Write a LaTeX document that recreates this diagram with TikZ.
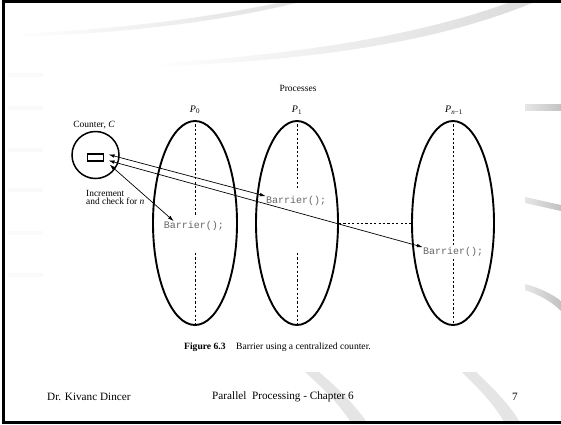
\documentclass[tikz,border=0pt]{standalone}
\usepackage{fontspec}
\setmainfont{Liberation Serif}
\setmonofont{Liberation Mono}
\usetikzlibrary{shapes.geometric,arrows.meta}
\newcommand{\procname}[1]{\textit{P}\textsubscript{#1}}
\begin{document}
\begin{tikzpicture}[x=1pt,y=-1pt,
  proc/.style={ellipse,draw,line width=1.9pt,minimum width=#1,minimum height=204pt,inner sep=0pt},
  guide/.style={line width=0.9pt,dash pattern=on 2.2pt off 2.2pt},
  call/.style={text=black!60,font=\ttfamily\fontsize{10}{12}\selectfont,inner sep=0pt},
  link/.style={line width=0.7pt,{Latex[length=6pt,width=3.6pt]}-{Latex[length=6pt,width=3.6pt]}},
  lbl/.style={font=\fontsize{9.5}{9.5}\selectfont,inner sep=0pt},
  foot/.style={font=\fontsize{11.2}{12}\selectfont,inner sep=0pt},
  swoosh/.style={draw=none},
  faint/.style={fill=black!2,draw=none}]
\useasboundingbox (0,0) rectangle (561,424);
\fill[white] (0,0) rectangle (561,424);

% slide background decoration
\shade[swoosh,left color=white,right color=black!12]
  (10,37) .. controls (120,34) and (220,22) .. (300,2) -- (283,2)
  .. controls (210,17) and (120,30) .. (10,34) -- cycle;
\shade[swoosh,left color=white,right color=black!14]
  (150,67) .. controls (300,61) and (430,45) .. (532,3) -- (508,3)
  .. controls (410,38) and (290,55) .. (150,64) -- cycle;
\foreach \yy in {75,108,150,190,233,275}
  \fill[faint] (8,\yy-2) rectangle (43,\yy+2);
\shade[swoosh,left color=black!10,right color=black!24]
  (525,104) -- (561,104) -- (561,110) -- (525,110) -- cycle;
\shade[swoosh,left color=black!10,right color=black!24]
  (525,197) -- (561,205) -- (561,211) -- (525,203) -- cycle;
\shade[swoosh,left color=black!10,right color=black!24]
  (525,284) .. controls (540,288) and (552,294) .. (561,301) -- (561,311)
  .. controls (552,302) and (540,295) .. (525,290) -- cycle;
\fill[black!10] (305,372) -- (319,372) .. controls (340,390) and (355,405) .. (368,424)
  -- (352,424) .. controls (340,405) and (325,390) .. (305,372) -- cycle;
\fill[black!10] (462,372) -- (476,372) .. controls (495,390) and (510,405) .. (521,424)
  -- (505,424) .. controls (495,405) and (480,390) .. (462,372) -- cycle;

% slide frame
\draw[line width=3pt] (563,1.5) -- (3.5,1.5) -- (3.5,422) -- (563,422);

% processes
\node[lbl] (proc) at (298,88) {Processes};
\node[proc=84pt] (E0) at (195,223) {};
\node[proc=82pt] (E1) at (297,223) {};
\node[proc=82pt] (E2) at (453,223) {};
\node[lbl,font=\fontsize{10}{10}\selectfont] (L0) at (195,110) {\procname{0}};
\node[lbl,font=\fontsize{10}{10}\selectfont] (L1) at (297,110) {\procname{1}};
\node[lbl,font=\fontsize{10}{10}\selectfont] (L2) at (454,110) {\procname{\textit{n}−1}};

% barrier calls
\node[call] (B0) at (194,226) {Barrier();};
\node[call] (B1) at (296,201) {Barrier();};
\node[call] (B2) at (453,252) {Barrier();};

% time lines through each process
\coordinate (g0a) at (195,215);
\coordinate (g0b) at (195,253);
\coordinate (g1a) at (297,190);
\coordinate (g1b) at (297,253);
\coordinate (g2a) at (453,245);
\coordinate (g2b) at (453,259);
\draw[guide] (E0.north) -- (g0a);
\draw[guide] (g0b) -- (E0.south);
\draw[guide] (E1.north) -- (g1a);
\draw[guide] (g1b) -- (E1.south);
\draw[guide] (E2.north) -- (g2a);
\draw[guide] (g2b) -- (E2.south);
\draw[guide] (E1.east) -- (E2.west);

% centralized counter
\node[circle,draw,line width=1.5pt,minimum size=47pt,inner sep=0pt] (C) at (95.5,155) {};
\node[draw,line width=1.3pt,minimum width=15.5pt,minimum height=7pt,inner sep=0pt] (R) at (95.5,157.5) {};
\node[lbl] (Clbl) at (94,125) {Counter, \textit{C}};
\node[lbl,align=left,anchor=west,font=\fontsize{9.4}{8}\selectfont] (inc) at (86,197)
  {Increment\\and check for \textit{n}};

% counter links
\coordinate (t1) at (108.5,154.5);
\coordinate (t2) at (108.5,160.5);
\coordinate (t3) at (109.5,164.5);
\draw[link] (t1) -- (B1.north west);
\draw[link] (t2) -- (B2.north west);
\draw[link] (t3) -- ([xshift=10pt]B0.north west);

% caption and footer
\node[lbl,font=\fontsize{9.6}{10}\selectfont] (cap) at (277.5,347)
  {\textbf{Figure 6.3}\hspace{1.1em}Barrier using a centralized counter.};
\node[foot,anchor=west] (author) at (47,397) {Dr. Kivanc Dincer};
\node[foot] (title) at (283,397) {Parallel\ \ Processing - Chapter 6};
\node[foot] (page) at (515,397) {7};
\end{tikzpicture}
\end{document}
